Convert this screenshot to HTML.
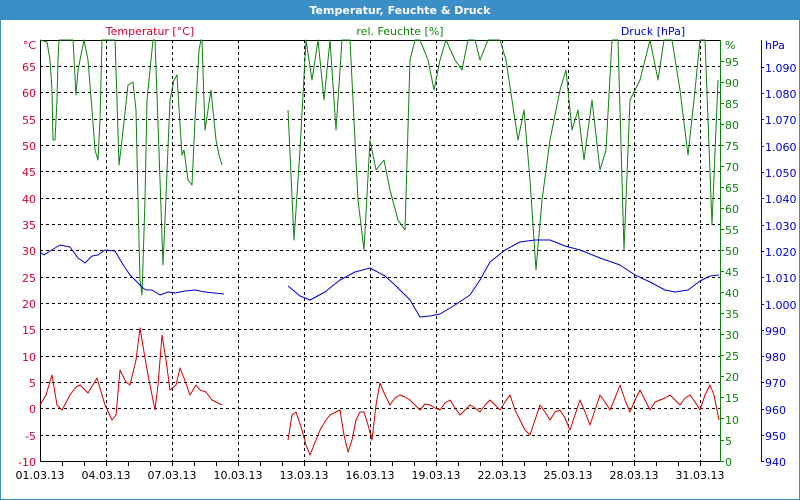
<!DOCTYPE html>
<html><head><meta charset="utf-8"><style>
html,body{margin:0;padding:0;width:800px;height:500px;overflow:hidden;background:#fff}
svg{display:block;font-family:"DejaVu Sans","Liberation Sans",sans-serif}
</style></head><body>
<svg width="800" height="500" xmlns="http://www.w3.org/2000/svg">
<rect x="0" y="0" width="800" height="500" fill="#3c8fc6"/>
<rect x="1" y="20" width="798" height="479" fill="#fff"/>
<text x="400" y="14" font-size="11" font-weight="bold" fill="#fff" text-anchor="middle">Temperatur, Feuchte &amp; Druck</text>
<text x="150" y="35" font-size="11" fill="#d00030" text-anchor="middle">Temperatur [°C]</text>
<text x="400" y="35" font-size="11" fill="#108010" text-anchor="middle">rel. Feuchte [%]</text>
<text x="653" y="35" font-size="11" fill="#0000d0" text-anchor="middle">Druck [hPa]</text>
<g stroke="#000" stroke-width="1" stroke-dasharray="3,3" fill="none">
<path d="M40 66.5H720M40 92.5H720M40 119.5H720M40 145.5H720M40 171.5H720M40 198.5H720M40 224.5H720M40 250.5H720M40 277.5H720M40 303.5H720M40 329.5H720M40 356.5H720M40 382.5H720M40 408.5H720M40 435.5H720"/>
<path d="M106.5 40V461M172.5 40V461M238.5 40V461M304.5 40V461M370.5 40V461M436.5 40V461M502.5 40V461M568.5 40V461M634.5 40V461M700.5 40V461"/>
</g>
<path d="M40.5 40V461.5H720M40 40.5H720" stroke="#000" fill="none"/>
<path d="M720.5 40V461.5" stroke="#108010" fill="none"/>
<path d="M761.5 40V461.5" stroke="#0000d0" fill="none"/>
<g stroke="#000">
<path d="M62.5 461v5M84.5 461v5M106.5 461v5M128.5 461v5M150.5 461v5M172.5 461v5M194.5 461v5M216.5 461v5M238.5 461v5M260.5 461v5M282.5 461v5M304.5 461v5M326.5 461v5M348.5 461v5M370.5 461v5M392.5 461v5M414.5 461v5M436.5 461v5M458.5 461v5M480.5 461v5M502.5 461v5M524.5 461v5M546.5 461v5M568.5 461v5M590.5 461v5M612.5 461v5M634.5 461v5M656.5 461v5M678.5 461v5M700.5 461v5"/>
</g>
<g font-size="11" fill="#000" text-anchor="middle">
<text x="40" y="479">01.03.13</text><text x="106" y="479">04.03.13</text><text x="172" y="479">07.03.13</text><text x="238" y="479">10.03.13</text><text x="304" y="479">13.03.13</text><text x="370" y="479">16.03.13</text><text x="436" y="479">19.03.13</text><text x="502" y="479">22.03.13</text><text x="568" y="479">25.03.13</text><text x="634" y="479">28.03.13</text><text x="700" y="479">31.03.13</text>
</g>
<g font-size="11" fill="#d00030" text-anchor="end">
<text x="36" y="49">°C</text><text x="36" y="71">65</text><text x="36" y="97">60</text><text x="36" y="124">55</text><text x="36" y="150">50</text><text x="36" y="176">45</text><text x="36" y="203">40</text><text x="36" y="229">35</text><text x="36" y="255">30</text><text x="36" y="282">25</text><text x="36" y="308">20</text><text x="36" y="334">15</text><text x="36" y="361">10</text><text x="36" y="387">5</text><text x="36" y="413">0</text><text x="36" y="440">-5</text><text x="36" y="466">-10</text>
</g>
<g font-size="11" fill="#108010">
<text x="725" y="49">%</text><text x="725" y="66">95</text><text x="725" y="87">90</text><text x="725" y="108">85</text><text x="725" y="129">80</text><text x="725" y="150">75</text><text x="725" y="171">70</text><text x="725" y="192">65</text><text x="725" y="213">60</text><text x="725" y="234">55</text><text x="725" y="255">50</text><text x="725" y="276">45</text><text x="725" y="297">40</text><text x="725" y="318">35</text><text x="725" y="339">30</text><text x="725" y="360">25</text><text x="725" y="381">20</text><text x="725" y="402">15</text><text x="725" y="424">10</text><text x="725" y="445">5</text><text x="725" y="466">0</text>
</g>
<g stroke="#108010"><path d="M720 61.5h4M720 82.5h4M720 103.5h4M720 124.5h4M720 145.5h4M720 166.5h4M720 187.5h4M720 208.5h4M720 229.5h4M720 250.5h4M720 271.5h4M720 292.5h4M720 313.5h4M720 334.5h4M720 355.5h4M720 376.5h4M720 397.5h4M720 418.5h4M720 440.5h4M720 461.5h4"/></g>
<g font-size="11" fill="#0000d0">
<text x="765" y="49">hPa</text><text x="765" y="72">1.090</text><text x="765" y="98">1.080</text><text x="765" y="124">1.070</text><text x="765" y="151">1.060</text><text x="765" y="177">1.050</text><text x="765" y="203">1.040</text><text x="765" y="230">1.030</text><text x="765" y="256">1.020</text><text x="765" y="282">1.010</text><text x="765" y="309">1.000</text><text x="765" y="335">990</text><text x="765" y="361">980</text><text x="765" y="387">970</text><text x="765" y="414">960</text><text x="765" y="440">950</text><text x="765" y="466">940</text>
</g>
<g stroke="#0000d0"><path d="M761 67.5h3M761 93.5h3M761 119.5h3M761 146.5h3M761 172.5h3M761 198.5h3M761 225.5h3M761 251.5h3M761 277.5h3M761 304.5h3M761 330.5h3M761 356.5h3M761 382.5h3M761 409.5h3M761 435.5h3M761 461.5h3"/></g>
<g fill="none" stroke-width="1" stroke-linejoin="round">
<polyline stroke="#108010" points="40,40 47,42 50,60 52,90 53,140 55,140 57,100 58,60 59,40 73,40 76,95 78,70 80,60 84,40 88,60 92,110 95,150 98,160 100,120 102,40 115,40 117,100 119,165 122,140 128,85 133,82 136,110 138,200 140,280 142,295 145,200 147,100 153,40 155,40 160,180 163,265 165,220 170,100 174,80 177,75 180,125 182,155 184,150 188,180 192,185 195,120 199,50 201,40 202,40 205,130 208,110 211,90 214,120 216,140 219,155 222,165"/>
<polyline stroke="#108010" points="288,110 294,240 300,150 306,40 312,80 318,40 324,100 330,40 336,130 342,40 350,40 358,200 364,250 370,140 376,170 384,160 390,190 398,220 405,230 410,60 415,40 420,40 428,60 434,90 440,60 446,40 455,60 462,70 468,40 475,40 480,60 488,40 500,40 506,60 512,100 518,140 524,110 530,180 536,270 542,200 550,140 560,90 566,70 572,130 578,110 584,160 592,100 600,170 606,150 612,40 618,40 624,250 630,100 640,80 650,40 658,80 664,40 672,40 680,90 688,155 694,100 700,40 705,40 712,225 718,80"/>
<polyline stroke="#0000d0" points="40,252 44,255 50,251 60,245 70,247 78,258 85,263 92,256 98,255 105,250 115,251 122,263 130,275 138,283 143,288 146,290 152,290 160,295 168,292 175,293 185,291 195,290 205,292 224,294"/>
<polyline stroke="#0000d0" points="288,286 300,296 310,300 325,292 340,280 355,272 370,268 385,276 395,285 410,300 420,317 430,316 440,314 455,305 470,295 480,280 490,262 505,250 520,242 535,240 550,240 565,246 580,250 600,258 620,265 635,275 650,282 665,290 675,292 688,290 700,281 710,276 719,275"/>
<polyline stroke="#d00000" points="40,405 46,395 52,375 57,405 62,410 70,395 76,387 80,385 88,393 94,383 97,378 102,395 105,405 112,420 116,415 120,370 126,382 130,385 136,360 140,328 144,352 148,375 152,395 155,410 158,385 162,335 166,360 170,390 176,385 180,368 184,378 190,395 196,385 200,390 206,392 212,400 218,403 222,405"/>
<polyline stroke="#d00000" points="288,440 292,415 296,412 302,430 306,445 310,455 316,440 320,430 326,420 330,415 336,412 340,410 344,435 348,452 352,440 356,420 360,412 364,412 368,425 372,440 376,405 380,383 385,395 390,405 395,398 400,395 405,397 410,400 415,405 420,410 425,404 430,405 435,408 440,410 445,403 450,400 455,408 460,415 465,410 470,405 475,408 480,412 485,405 490,400 495,405 500,410 505,402 510,395 515,410 520,420 525,430 530,435 535,420 540,405 545,412 550,420 555,412 560,410 565,418 570,430 575,415 580,400 585,412 590,425 595,410 600,395 605,402 610,410 615,398 620,385 625,400 630,412 635,400 640,390 645,400 650,410 655,402 660,400 665,398 670,395 675,400 680,405 685,398 690,395 695,402 700,410 705,395 710,385 714,395 719,420"/>
</g>
</svg>
</body></html>
